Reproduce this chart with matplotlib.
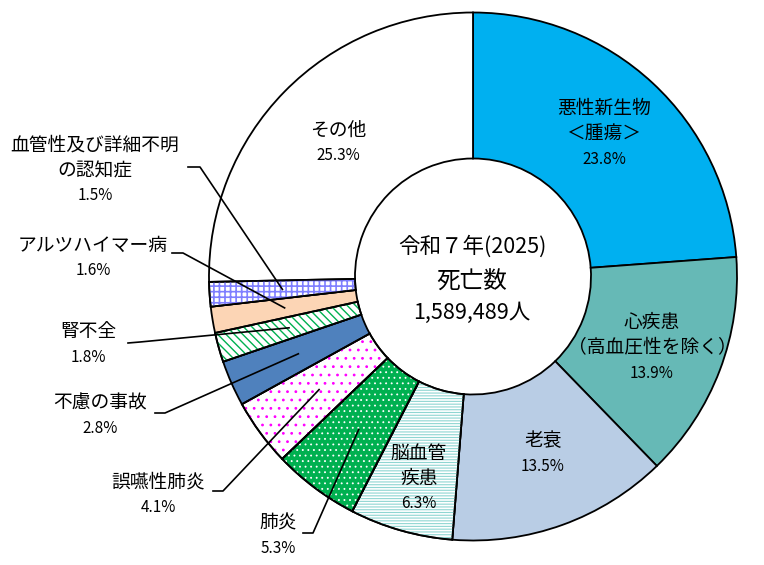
"""
令和7年(2025) 死因別死亡数の割合 - ドーナツグラフ
"""
import matplotlib as mpl
import matplotlib.pyplot as plt
from matplotlib.patches import Wedge
import numpy as np

plt.rcParams['font.family'] = ['Noto Sans CJK JP', 'DejaVu Sans']

# data
causes = ['悪性新生物\n＜腫瘍＞', '心疾患\n（高血圧性を除く）', '老衰', '脳血管\n疾患', '肺炎',
          '誤嚥性肺炎', '不慮の事故', '腎不全', 'アルツハイマー病',
          '血管性及び詳細不明\nの認知症', 'その他']
shares = [23.8, 13.9, 13.5, 6.3, 5.3, 4.1, 2.8, 1.8, 1.6, 1.5, 25.3]
year_label = '令和７年(2025)'
total_deaths = 1589489

# styles
fills = ['#00B0F0', '#66B9B6', '#B9CDE5', '#FFFFFF', '#00B050', '#FFFFFF',
         '#4F81BD', '#FFFFFF', '#FCD5B5', '#FFFFFF', '#FFFFFF']
hatches = [None, None, None, '------', '...', '..', None, '\\\\\\\\', None, '+++', None]
hatch_colors = [None, None, None, '#8FD6D2', '#FFFFFF', '#FF00FF', None,
                '#00B050', None, '#7F7FFF', None]
hatch_widths = [0, 0, 0, 0.8, 0.6, 0.8, 0, 1.0, 0, 1.2, 0]

W, H = 764, 565
cx, cy = 473, H - 276.5
r_out, r_in = 264, 118


def py(y):
    # pixel row (from top) -> data y
    return H - y


# label layout: x, y of first line (pixels from top)
label_pos = {0: (604, 108), 1: (652, 322), 2: (543, 441), 3: (419, 453),
             10: (338, 130), 4: (278, 523), 5: (158, 482), 6: (100, 403),
             7: (88, 332), 8: (93, 245), 9: (95, 145)}
# leader lines: text side start, elbow
leaders = {9: ((188, 167), (200, 167)), 8: ((172, 253), (183, 253)),
           7: ((128, 343), (140, 342)), 6: ((155, 413), (165, 413)),
           5: ((213, 491), (223, 491)), 4: ((303, 533), (313, 533))}
step = 25.5

fig = plt.figure(figsize=(W / 100, H / 100), dpi=100)
ax = fig.add_axes([0, 0, 1, 1])

wedges, _ = ax.pie(shares, colors=fills, startangle=90, counterclock=False,
                   center=(cx, cy), radius=r_out,
                   wedgeprops=dict(width=r_out - r_in, edgecolor='black', linewidth=1.3))

for i, w in enumerate(wedges):
    if hatches[i]:
        with mpl.rc_context({'hatch.linewidth': hatch_widths[i]}):
            hp = Wedge((cx, cy), r_out, w.theta1, w.theta2, width=r_out - r_in,
                       facecolor='none', edgecolor=hatch_colors[i], linewidth=0,
                       hatch=hatches[i], zorder=2)
        ax.add_patch(hp)
        ax.add_patch(Wedge((cx, cy), r_out, w.theta1, w.theta2, width=r_out - r_in,
                           facecolor='none', edgecolor='black', linewidth=1.3, zorder=3))

# labels
for i, name in enumerate(causes):
    x, y0 = label_pos[i]
    lines = name.split('\n')
    for k, line in enumerate(lines):
        ax.text(x, py(y0 + k * step), line, ha='center', va='center', fontsize=13.5, zorder=5)
    ax.text(x, py(y0 + len(lines) * step), f'{shares[i]:.1f}%', ha='center', va='center',
            fontsize=11, zorder=5)

# leader lines to ring middle at mid angle
r_mid = (r_out + r_in) / 2
for i, (p0, p1) in leaders.items():
    w = wedges[i]
    ang = np.deg2rad((w.theta1 + w.theta2) / 2)
    ex, ey = cx + r_mid * np.cos(ang), cy + r_mid * np.sin(ang)
    ax.plot([p0[0], p1[0], ex], [py(p0[1]), py(p1[1]), ey], color='black', lw=1.2, zorder=6)

# centre text
ax.text(cx - 1, py(247), year_label, ha='center', va='center', fontsize=15.5)
ax.text(cx - 1, py(282), '死亡数', ha='center', va='center', fontsize=17)
ax.text(cx - 1, py(313), f'{total_deaths:,}人', ha='center', va='center', fontsize=15.5)

ax.set_xlim(0, W)
ax.set_ylim(0, H)
ax.set_aspect('equal')
ax.set_axis_off()

plt.savefig('out.png', dpi=100)
plt.close()
